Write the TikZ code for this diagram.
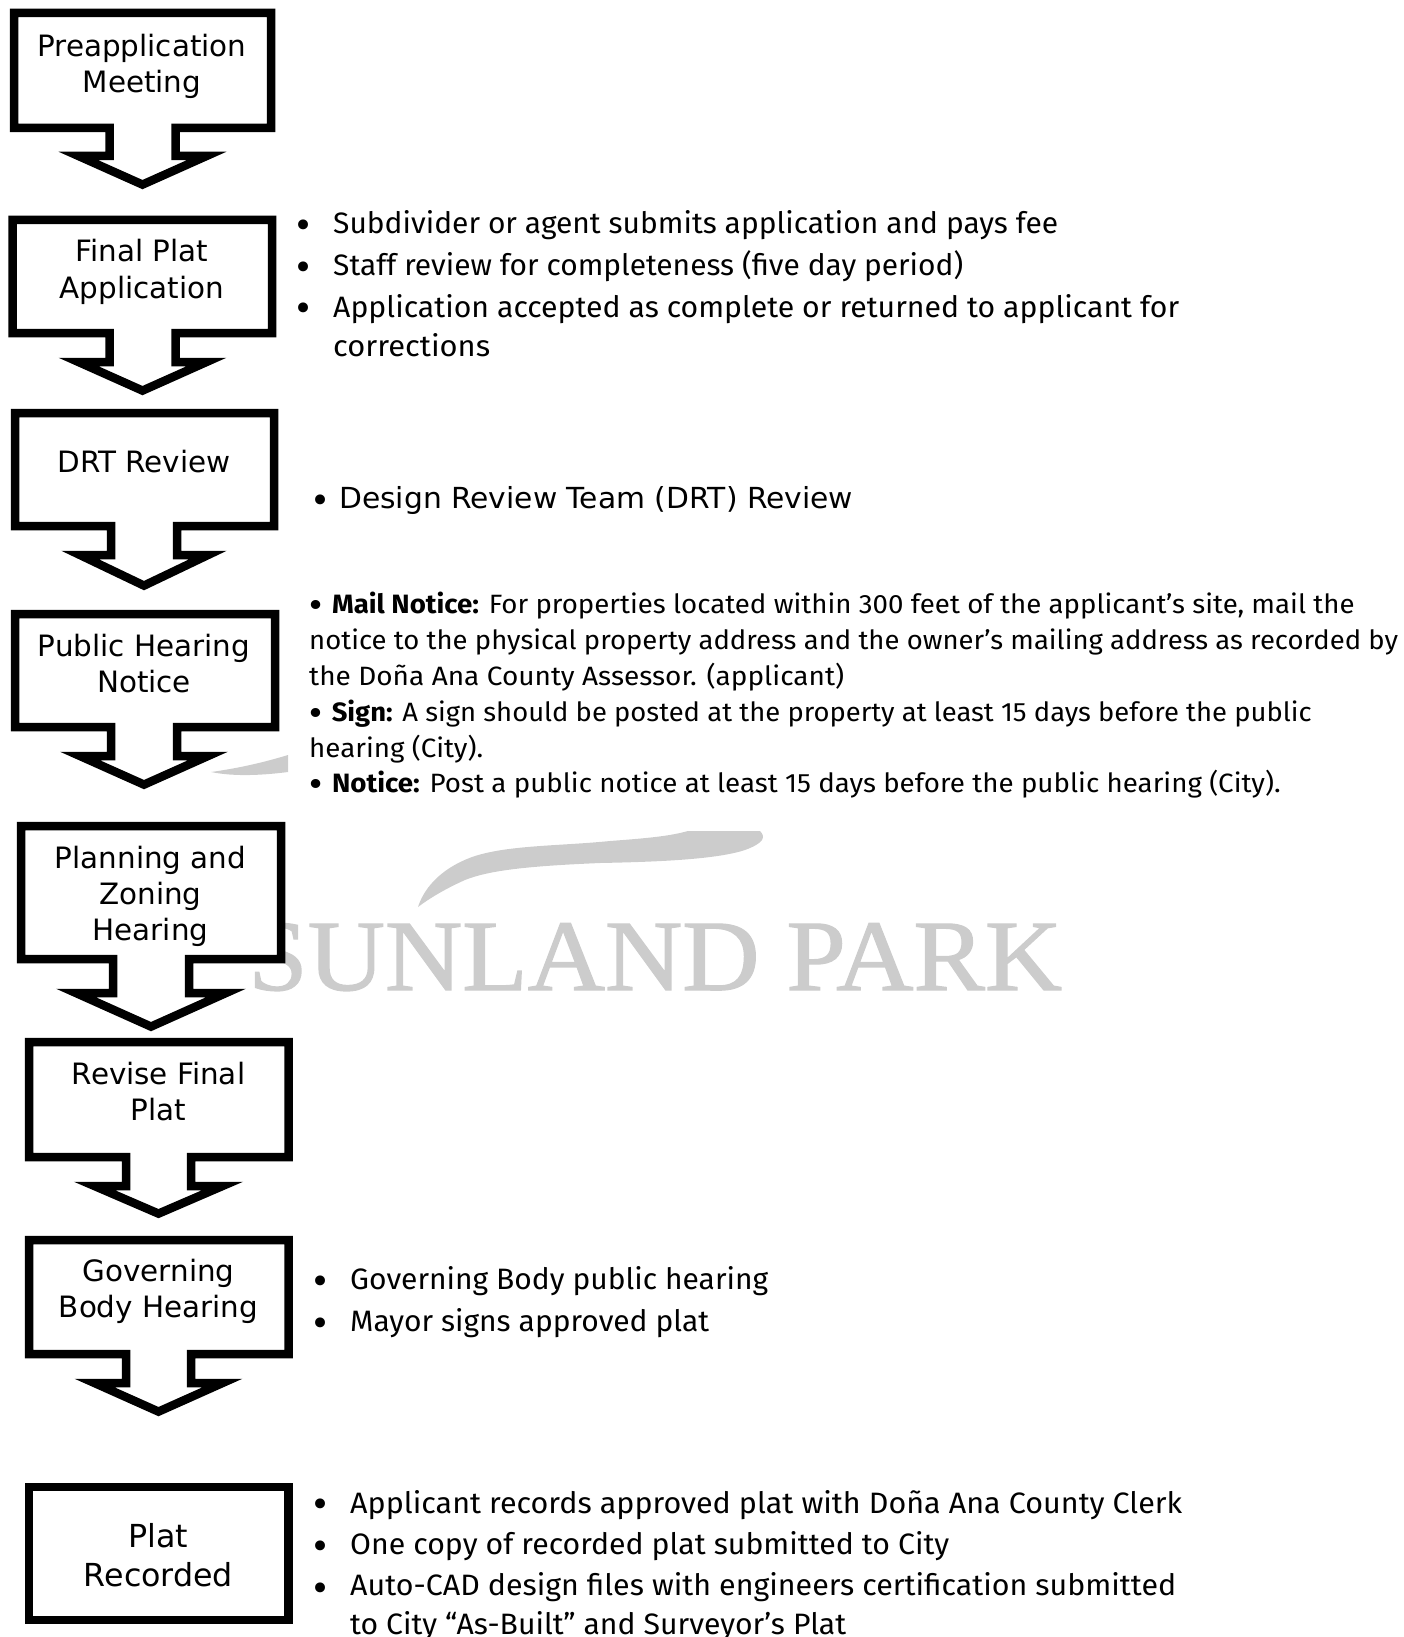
\documentclass[tikz,border=0pt]{standalone}
\usepackage{fontspec}
\usepackage{graphicx}
\setmainfont{Fira Sans}
\newfontfamily\boxfont{DejaVu Sans}
\newfontfamily\markfont[FakeBold=1.2]{Liberation Serif}
\definecolor{wm}{HTML}{CCCCCC}
\newsavebox\fitbox
\newcommand\fitw[2]{\sbox\fitbox{#2}\pgfmathsetmacro\fitr{#1/\the\wd\fitbox}\scalebox{\fitr}[1]{\usebox\fitbox}}
\newcommand\bigdot{\raisebox{-2.8pt}{\boxfont\fontsize{31}{31}\selectfont •}\hspace{6pt}}
\newcommand\arrowbox[9]{% L T R B cx stemhw winghw wingdy tipdy
  \pgfmathsetmacro\aL{#1+4}\pgfmathsetmacro\aT{#2+4}\pgfmathsetmacro\aR{#3-4}\pgfmathsetmacro\aB{#4-4}
  \pgfmathsetmacro\aSl{#5-#6}\pgfmathsetmacro\aSr{#5+#6}
  \pgfmathsetmacro\aWl{#5-#7+19}\pgfmathsetmacro\aWr{#5+#7-19}
  \pgfmathsetmacro\aWy{#4+#8+4}\pgfmathsetmacro\aTip{#4+#9-4.4}
  \draw[flowshape] (\aL,\aT) -- (\aR,\aT) -- (\aR,\aB) -- (\aSr,\aB) -- (\aSr,\aWy) -- (\aWr,\aWy)
    -- (#5,\aTip) -- (\aWl,\aWy) -- (\aSl,\aWy) -- (\aSl,\aB) -- (\aL,\aB) -- cycle;
}
\tikzset{
  flowshape/.style={draw=black,fill=white,line width=8.5pt,miter limit=10,line join=miter},
  boxlabel/.style={font=\boxfont\fontsize{29.4}{36}\selectfont,align=center,inner sep=0pt,anchor=base},
  biglabel/.style={font=\boxfont\fontsize{31.7}{39}\selectfont,align=center,inner sep=0pt,anchor=base},
  listline/.style={font=\fontsize{29.5}{29.5}\selectfont,inner sep=0pt,anchor=base west},
  noteline/.style={font=\fontsize{26.5}{26.5}\selectfont,inner sep=0pt,anchor=base west},
  drtline/.style={font=\boxfont\fontsize{29}{29}\selectfont,inner sep=0pt,anchor=base west},
  dot/.style={font=\boxfont\fontsize{34}{34}\selectfont,inner sep=0pt,anchor=base},
  markline/.style={font=\markfont\fontsize{101}{101}\selectfont,text=wm,inner sep=0pt,anchor=base west},
}
\begin{document}
\begin{tikzpicture}[x=1pt,y=-1pt]
\useasboundingbox (0,0) rectangle (1404,1637);
% watermark
\fill[wm] (418,907) .. controls (425,885) and (445,866) .. (475,856) .. controls (510,845) and (560,846) .. (610,841) .. controls (650,838) and (670,836) .. (688,831) -- (760,831) .. controls (766,837) and (764,843) .. (745,850) .. controls (715,860) and (650,862) .. (600,863) .. controls (530,866) and (490,870) .. (465,880) .. controls (445,889) and (430,898) .. (418,907) -- cycle;
\fill[wm] (211,772) .. controls (240,768) and (265,762) .. (288,755) -- (288,772) .. controls (265,775) and (235,777) .. (211,772) -- cycle;
\node[markline] (mark) at (248,990) {\fitw{814pt}{SUNLAND PARK}};
% flow shapes
\arrowbox{10}{9}{275}{132}{142.5}{33}{83}{20}{57}
\arrowbox{8.5}{216}{276}{337}{142.5}{33}{83}{21}{58}
\arrowbox{11}{409}{278}{530}{144}{33}{83}{21}{60}
\arrowbox{11}{610}{279}{731}{144}{33}{83}{21}{58}
\arrowbox{17}{822}{285}{963}{151}{38}{94}{26}{68}
\arrowbox{25}{1038}{292.5}{1161}{158.5}{32.5}{83}{21}{57}
\arrowbox{25}{1236}{292.5}{1358}{158.5}{32.5}{83}{21}{58}
\draw[flowshape] (29,1487) rectangle (288.5,1620);
% box labels
\node[boxlabel] (b1) at (142,92.5) {Preapplication\\Meeting};
\node[boxlabel] (b2) at (142,298) {Final Plat\\Application};
\node[boxlabel] (b3) at (144,472) {DRT Review};
\node[boxlabel] (b4) at (144,692) {Public Hearing\\Notice};
\node[boxlabel] (b5) at (150.5,940.5) {Planning and\\Zoning\\Hearing};
\node[boxlabel] (b6) at (158.5,1120.5) {Revise Final\\Plat};
\node[boxlabel] (b7) at (158.5,1317.5) {Governing\\Body Hearing};
\node[biglabel] (b8) at (158.5,1586) {Plat\\Recorded};
% application list
\node[dot] (d1) at (304,237.5) {•};
\node[listline] (t1) at (333,234) {\fitw{725pt}{Subdivider or agent submits application and pays fee}};
\node[dot] (d2) at (304,279.5) {•};
\node[listline] (t2) at (333,276) {\fitw{630pt}{Staff review for completeness (five day period)}};
\node[dot] (d3) at (304,320.5) {•};
\node[listline] (t3) at (333,317) {\fitw{846pt}{Application accepted as complete or returned to applicant for}};
\node[listline] (t4) at (333,356) {\fitw{157pt}{corrections}};
% DRT
\node[dot] (d5) at (321,512) {•};
\node[drtline] (t5) at (339,508.5) {\fitw{514pt}{Design Review Team (DRT) Review}};
% notice
\node[noteline] (n1) at (306.5,613.5) {\fitw{1048pt}{\bigdot\textbf{Mail Notice:} For properties located within 300 feet of the applicant’s site, mail the}};
\node[noteline] (n2) at (309,649.5) {\fitw{1089pt}{notice to the physical property address and the owner’s mailing address as recorded by}};
\node[noteline] (n3) at (309,685.5) {\fitw{535pt}{the Doña Ana County Assessor. (applicant)}};
\node[noteline] (n4) at (306.5,721.5) {\fitw{1005pt}{\bigdot\textbf{Sign:} A sign should be posted at the property at least 15 days before the public}};
\node[noteline] (n5) at (309,757.5) {\fitw{174pt}{hearing (City).}};
\node[noteline] (n6) at (306.5,792.5) {\fitw{974pt}{\bigdot\textbf{Notice:} Post a public notice at least 15 days before the public hearing (City).}};
% governing
\node[dot] (d7) at (321,1293) {•};
\node[listline] (g1) at (350,1289.5) {\fitw{418pt}{Governing Body public hearing}};
\node[dot] (d8) at (321,1335) {•};
\node[listline] (g2) at (350,1331.5) {\fitw{359pt}{Mayor signs approved plat}};
% recorded
\node[dot] (d9) at (321,1516) {•};
\node[listline] (r1) at (350,1513.5) {\fitw{832pt}{Applicant records approved plat with Doña Ana County Clerk}};
\node[dot] (d10) at (321,1558) {•};
\node[listline] (r2) at (350,1554.5) {\fitw{599pt}{One copy of recorded plat submitted to City}};
\node[dot] (d11) at (321,1600) {•};
\node[listline] (r3) at (350,1595.5) {\fitw{826pt}{Auto-CAD design files with engineers certification submitted}};
\node[listline] (r4) at (350,1634.5) {\fitw{496pt}{to City “As-Built” and Surveyor’s Plat}};
\end{tikzpicture}
\end{document}
